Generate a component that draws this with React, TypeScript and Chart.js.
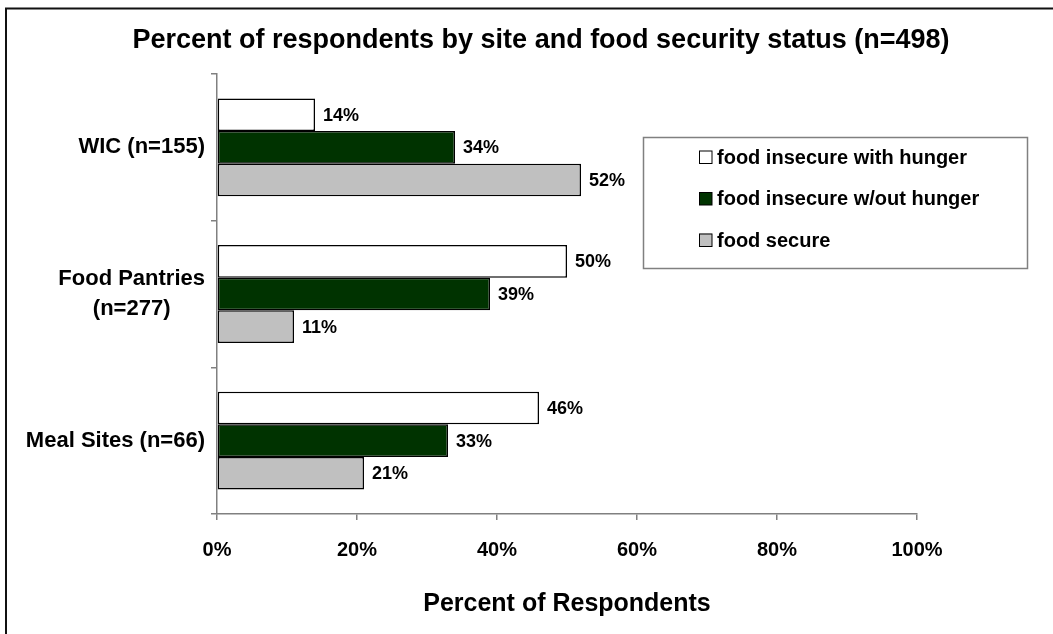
import React, { useEffect, useRef } from "react";
import { Chart, registerables } from "chart.js";

Chart.register(...registerables);

const categories: string[][] = [["WIC (n=155)"], ["Food Pantries", "(n=277)"], ["Meal Sites (n=66)"]];
const seriesNames = ["food insecure with hunger", "food insecure w/out hunger", "food secure"];
const withHunger = [14, 50, 46];
const withoutHunger = [34, 39, 33];
const foodSecure = [52, 11, 21];
const seriesColors = ["#FFFFFF", "#003300", "#C0C0C0"];
const xTicks = [0, 20, 40, 60, 80, 100];
const titleText = "Percent of respondents by site and food security status (n=498)";
const xTitle = "Percent of Respondents";

const FONT = "'Liberation Sans', Arial, sans-serif";

const decorPlugin = {
  id: "decor",
  afterDraw(chart: any) {
    const ctx = chart.ctx as CanvasRenderingContext2D;
    ctx.save();
    // outer frame
    ctx.strokeStyle = "#111";
    ctx.lineWidth = 2;
    ctx.beginPath();
    ctx.moveTo(6, 634);
    ctx.lineTo(6, 8.5);
    ctx.lineTo(1053, 8.5);
    ctx.stroke();

    // title
    ctx.fillStyle = "#000";
    ctx.font = `bold 27px ${FONT}`;
    ctx.textAlign = "center";
    ctx.textBaseline = "middle";
    ctx.fillText(titleText, 541, 41);

    // y category labels
    const yScale = chart.scales.y;
    ctx.font = `bold 22px ${FONT}`;
    categories.forEach((lines, i) => {
      const cy = yScale.getPixelForTick(i);
      const widths = lines.map((l) => ctx.measureText(l).width);
      const maxW = Math.max(...widths);
      const right = 205;
      const lh = 30;
      const startY = cy - ((lines.length - 1) * lh) / 2;
      lines.forEach((l, j) => {
        ctx.textAlign = "center";
        ctx.fillText(l, right - maxW / 2, startY + j * lh);
      });
    });

    // data labels
    ctx.font = `bold 18px ${FONT}`;
    ctx.textAlign = "left";
    chart.data.datasets.forEach((ds: any, di: number) => {
      const meta = chart.getDatasetMeta(di);
      meta.data.forEach((bar: any, i: number) => {
        ctx.fillText(ds.data[i] + "%", bar.x + 8, bar.y + 1);
      });
    });

    // legend
    const lx = 643.5, ly = 137.5, lw = 384, lh2 = 131;
    ctx.fillStyle = "#fff";
    ctx.fillRect(lx, ly, lw, lh2);
    ctx.strokeStyle = "#808080";
    ctx.lineWidth = 1.5;
    ctx.strokeRect(lx, ly, lw, lh2);
    ctx.font = `bold 20px ${FONT}`;
    seriesNames.forEach((name, i) => {
      const cy = 157 + i * 41.5;
      ctx.fillStyle = seriesColors[i];
      ctx.fillRect(699, cy - 6.5, 13, 13);
      ctx.strokeStyle = "#000";
      ctx.lineWidth = 1;
      ctx.strokeRect(699.5, cy - 6, 12.5, 12.5);
      ctx.fillStyle = "#000";
      ctx.textAlign = "left";
      ctx.fillText(name, 717, cy + 1);
    });
    ctx.restore();
  },
};

export default function App() {
  const ref = useRef<HTMLCanvasElement | null>(null);
  useEffect(() => {
    if (!ref.current) return;
    const chart = new Chart(ref.current, {
      type: "bar",
      data: {
        labels: categories.map((c) => c.join(" ")),
        datasets: [
          { label: seriesNames[0], data: withHunger, backgroundColor: seriesColors[0] },
          { label: seriesNames[1], data: withoutHunger, backgroundColor: seriesColors[1] },
          { label: seriesNames[2], data: foodSecure, backgroundColor: seriesColors[2] },
        ].map((d) => ({
          ...d,
          borderColor: "#000",
          borderWidth: 1.5,
          borderSkipped: false,
          categoryPercentage: 0.667,
          barPercentage: 1,
        })),
      },
      plugins: [decorPlugin],
      options: {
        indexAxis: "y",
        animation: false,
        responsive: false,
        maintainAspectRatio: false,
        layout: { padding: { top: 74, right: 136, left: 0, bottom: 0 } },
        plugins: {
          legend: { display: false },
          title: { display: false },
          tooltip: { enabled: false },
        },
        scales: {
          y: {
            type: "category",
            offset: true,
            grid: { display: true, drawOnChartArea: false, offset: true, tickLength: 6, color: "#808080", lineWidth: 1.5 },
            border: { display: true, color: "#808080", width: 1.5 },
            ticks: { display: false },
            afterFit: (s: any) => { s.width = 217; },
          },
          x: {
            type: "linear",
            min: 0,
            max: 100,
            afterBuildTicks: (s: any) => { s.ticks = xTicks.map((v) => ({ value: v })); },
            grid: { display: true, drawOnChartArea: false, tickLength: 6, color: "#808080", lineWidth: 1.5 },
            border: { display: true, color: "#808080", width: 1.5 },
            ticks: {
              color: "#000",
              padding: 18,
              font: { family: FONT, size: 20, weight: "bold" },
              callback: (v: any) => v + "%",
              maxRotation: 0,
            },
            title: {
              display: true,
              text: xTitle,
              color: "#000",
              font: { family: FONT, size: 25, weight: "bold" },
              padding: { top: 0, bottom: 15 },
            },
            afterFit: (s: any) => { s.height = 120; },
          },
        },
      },
    });
    return () => chart.destroy();
  }, []);
  return (
    <div style={{ position: "absolute", left: 0, top: 0, width: 1053, height: 634, background: "#fff" }}>
      <canvas ref={ref} width={1053} height={634} style={{ display: "block" }} />
    </div>
  );
}
